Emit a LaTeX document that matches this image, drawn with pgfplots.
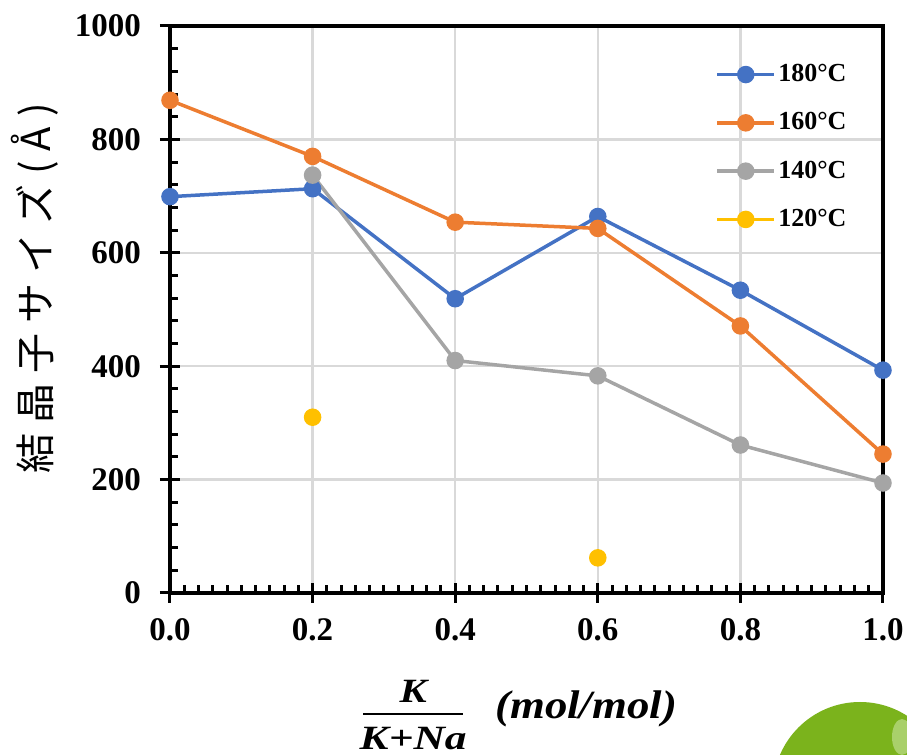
\documentclass[border=0pt]{standalone}
\usepackage{fontspec}
\setmainfont{Liberation Serif}
\newfontfamily\jpfont[LetterSpace=25]{Noto Sans CJK JP}
\usepackage{graphicx}
\usepackage{pgfplots}
\pgfplotsset{compat=1.18}

\definecolor{c180}{HTML}{4472C4}
\definecolor{c160}{HTML}{ED7D31}
\definecolor{c140}{HTML}{A5A5A5}
\definecolor{c120}{HTML}{FFC000}
\definecolor{gridgray}{HTML}{D9D9D9}
\definecolor{leaf}{HTML}{7BB31C}
\definecolor{leaflight}{HTML}{A9D06A}

% fraction K / (K+Na), bold italic, set wide
\newcommand{\kfrac}{%
  \vbox{\fontsize{17}{20}\selectfont\bfseries\itshape
    \hbox to 50pt{\hss\scalebox{1.2}[1]{K}\hss}%
    \kern5.5pt
    \hrule height 1.2pt
    \kern6pt
    \hbox to 50pt{\hss\scalebox{1.28}[1]{K+Na}\hss}}}

\begin{document}
\begin{tikzpicture}[x=1pt,y=1pt]
\useasboundingbox (-85,-81) rectangle (368.5,296.5);
\begin{scope}
  \clip (-85,-81) rectangle (368.5,296.5);
  \fill[leaf] (345,-98) circle (43.5);
  \fill[leaflight] (366,-72) ellipse (5 and 9);
\end{scope}
\begin{axis}[
  at={(0,0)}, anchor=south west,
  scale only axis, width=356.5pt, height=283.5pt,
  xmin=0, xmax=1, ymin=0, ymax=1000,
  xtick={0,0.2,0.4,0.6,0.8,1},
  xticklabels={0.0,0.2,0.4,0.6,0.8,1.0},
  ytick={0,200,400,600,800,1000},
  /pgf/number format/1000 sep={},
  minor x tick num=9, minor y tick num=4,
  grid=major,
  major grid style={draw=gridgray, line width=1.2pt},
  axis line style={line width=2pt},
  tick style={black, line width=1.5pt},
  major tick length=10pt, minor tick length=4pt, tick align=center,
  minor x tick style={yshift=2pt},
  minor y tick style={xshift=2pt},
  tick pos=left,
  /pgf/number format/assume math mode=true,
  ticklabel style={font=\fontsize{16.5}{18}\selectfont\bfseries},
  xticklabel style={yshift=-4pt},
  yticklabel style={xshift=-6pt},
  clip=false,
  unbounded coords=jump,
  every axis plot/.append style={line width=1.75pt, mark=*, mark size=3.5pt, mark options={solid}},
  legend style={draw=none, fill=none, at={(axis description cs:0.767,0.94)},
    anchor=north west, font=\fontsize{13}{14}\selectfont\bfseries,
    row sep=10pt, inner sep=0pt},
  legend cell align=left,
  % legend sample: a short bar with a dot in its middle
  legend image code/.code={%
    \fill[#1, draw=none] (0pt,-0.875pt) rectangle (28.5pt,0.875pt);
    \path[#1, draw=none] plot coordinates {(14.25pt,0pt)};},
  xlabel={\raisebox{-0.5pt}{$\vcenter{\kfrac}$}\hspace{16pt}%
    {\fontsize{20}{24}\selectfont\bfseries\itshape\scalebox{1.12}[1]{(mol/mol)}}},
  xlabel style={at={(axis description cs:0.491,-0.215)}, anchor=center},
  ylabel={\jpfont 結晶子サイズ(Å)},
  ylabel style={at={(axis description cs:-0.1893,0.537)}, anchor=center,
    font=\fontsize{20}{24}\selectfont},
]
\addplot[color=c180] coordinates {(0,699) (0.2,713) (0.4,519) (0.6,664) (0.8,534) (1.0,393)};
\addlegendentry{180\textdegree C}
\addplot[color=c160] coordinates {(0,869) (0.2,770) (0.4,654) (0.6,643) (0.8,471) (1.0,245)};
\addlegendentry{160\textdegree C}
\addplot[color=c140] coordinates {(0.2,737) (0.4,410) (0.6,383) (0.8,261) (1.0,194)};
\addlegendentry{140\textdegree C}
\addplot[color=c120] coordinates {(0.2,310) (0.4,nan) (0.6,62)};
\addlegendentry{120\textdegree C}
\end{axis}
\end{tikzpicture}
\end{document}
